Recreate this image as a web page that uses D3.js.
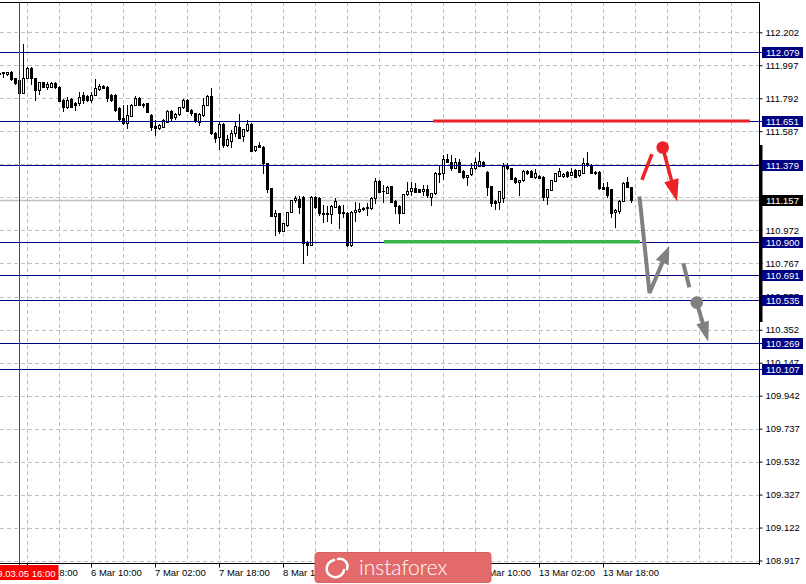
<!DOCTYPE html>
<html><head><meta charset="utf-8">
<script src="https://cdn.jsdelivr.net/npm/d3@7"></script>
<style>html,body{margin:0;padding:0;background:#fff;overflow:hidden}</style>
</head><body>
<svg id="c" width="806" height="584" xmlns="http://www.w3.org/2000/svg"></svg>
<script>
// ---- DATA (USDJPY H1, candle index 0 = 5 Mar 12:00) ----
const firstIndex = -1;
const openP = [111.949,
111.949,111.943,111.955,111.918,111.906,111.825,111.918,111.980,111.918,111.843,
111.893,111.862,111.862,111.887,111.862,111.781,111.738,111.787,111.762,111.762,
111.812,111.806,111.781,111.812,111.850,111.868,111.862,111.812,111.812,111.731,
111.669,111.638,111.682,111.750,111.794,111.756,111.762,111.688,111.619,111.607,
111.613,111.644,111.713,111.675,111.694,111.738,111.781,111.719,111.700,111.644,
111.688,111.750,111.806,111.576,111.551,111.632,111.501,111.526,111.576,111.613,
111.557,111.595,111.632,111.470,111.501,111.489,111.389,111.234,111.060,111.078,
110.966,111.004,111.085,111.159,111.165,111.178,110.898,110.879,111.178,111.172,
111.078,111.078,111.072,111.116,111.122,111.085,111.078,110.879,111.085,111.091,
111.109,111.116,111.109,111.172,111.277,111.215,111.203,111.246,111.153,111.122,
111.078,111.197,111.215,111.234,111.228,111.215,111.228,111.178,111.203,111.321,
111.327,111.414,111.396,111.358,111.396,111.340,111.302,111.321,111.358,111.371,
111.396,111.333,111.246,111.153,111.147,111.172,111.371,111.358,111.296,111.271,
111.284,111.340,111.340,111.302,111.309,111.302,111.178,111.221,111.277,111.309,
111.309,111.333,111.315,111.346,111.315,111.327,111.389,111.377,111.333,111.333,
111.240,111.240,111.228,111.085,111.091,111.153,111.271,111.240];
const highP = [111.955,
111.955,111.955,111.961,111.918,111.906,112.129,111.986,111.986,111.918,111.893,
111.893,111.893,111.893,111.893,111.868,111.787,111.800,111.794,111.769,111.831,
111.831,111.812,111.831,111.912,111.881,111.874,111.868,111.818,111.818,111.738,
111.750,111.750,111.756,111.806,111.800,111.762,111.762,111.694,111.657,111.632,
111.663,111.719,111.719,111.700,111.738,111.787,111.787,111.725,111.700,111.700,
111.794,111.812,111.856,111.582,111.644,111.638,111.563,111.595,111.644,111.694,
111.601,111.657,111.638,111.495,111.520,111.495,111.389,111.234,111.097,111.078,
111.016,111.085,111.159,111.184,111.184,111.184,110.904,111.184,111.184,111.178,
111.128,111.122,111.128,111.172,111.128,111.128,111.085,111.091,111.147,111.141,
111.116,111.141,111.178,111.296,111.284,111.253,111.246,111.246,111.159,111.128,
111.197,111.271,111.271,111.265,111.228,111.253,111.253,111.203,111.333,111.377,
111.439,111.445,111.439,111.420,111.414,111.346,111.315,111.389,111.420,111.458,
111.402,111.340,111.246,111.159,111.215,111.389,111.389,111.358,111.302,111.284,
111.346,111.346,111.346,111.352,111.315,111.309,111.228,111.284,111.327,111.358,
111.327,111.340,111.358,111.352,111.346,111.420,111.458,111.383,111.340,111.340,
111.265,111.271,111.228,111.103,111.159,111.271,111.302,111.240];
const lowP = [111.930,
111.924,111.937,111.906,111.881,111.825,111.825,111.918,111.881,111.781,111.818,
111.862,111.850,111.862,111.856,111.775,111.713,111.731,111.738,111.719,111.750,
111.762,111.775,111.769,111.812,111.843,111.856,111.775,111.775,111.713,111.657,
111.632,111.607,111.682,111.750,111.750,111.738,111.706,111.595,111.563,111.601,
111.613,111.644,111.657,111.663,111.688,111.731,111.713,111.688,111.644,111.626,
111.682,111.750,111.570,111.520,111.476,111.489,111.495,111.489,111.557,111.545,
111.526,111.588,111.464,111.464,111.489,111.327,111.209,111.060,110.941,110.954,
110.966,110.997,111.085,111.147,111.078,110.767,110.817,110.879,111.109,111.066,
111.022,111.029,111.016,111.116,110.985,111.053,110.873,110.873,111.029,111.085,
111.097,111.066,111.103,111.141,111.209,111.147,111.203,111.147,111.078,111.016,
111.078,111.190,111.190,111.209,111.209,111.190,111.178,111.128,111.197,111.271,
111.290,111.396,111.346,111.358,111.333,111.296,111.253,111.315,111.352,111.371,
111.371,111.190,111.122,111.103,111.103,111.147,111.352,111.290,111.265,111.190,
111.277,111.321,111.302,111.296,111.296,111.159,111.134,111.221,111.277,111.309,
111.302,111.302,111.315,111.302,111.309,111.327,111.371,111.327,111.321,111.228,
111.228,111.178,111.053,110.991,111.078,111.153,111.240,111.147];
const closeP = [111.943,
111.955,111.955,111.912,111.887,111.825,111.918,111.980,111.918,111.843,111.893,
111.862,111.881,111.887,111.862,111.775,111.738,111.781,111.738,111.750,111.800,
111.781,111.781,111.812,111.856,111.868,111.856,111.794,111.781,111.719,111.663,
111.638,111.688,111.750,111.794,111.750,111.750,111.706,111.613,111.607,111.626,
111.657,111.713,111.669,111.694,111.738,111.781,111.713,111.700,111.650,111.694,
111.750,111.806,111.576,111.545,111.632,111.501,111.539,111.576,111.619,111.545,
111.601,111.632,111.464,111.495,111.489,111.389,111.228,111.060,111.078,110.966,
111.016,111.085,111.159,111.172,111.116,110.892,110.879,111.178,111.116,111.078,
111.072,111.072,111.122,111.153,111.078,111.078,110.879,111.085,111.097,111.103,
111.103,111.109,111.172,111.277,111.209,111.215,111.240,111.147,111.122,111.078,
111.197,111.215,111.234,111.209,111.209,111.228,111.190,111.203,111.327,111.327,
111.414,111.396,111.358,111.396,111.333,111.302,111.315,111.358,111.396,111.402,
111.371,111.240,111.141,111.141,111.215,111.371,111.358,111.290,111.271,111.284,
111.340,111.327,111.302,111.327,111.296,111.178,111.228,111.284,111.327,111.340,
111.321,111.309,111.333,111.302,111.346,111.389,111.377,111.327,111.327,111.234,
111.228,111.190,111.078,111.097,111.153,111.265,111.240,111.157];

const priceTicks = [112.202,111.997,111.792,111.587,111.382,111.177,110.972,110.767,110.557,110.352,110.147,109.942,109.737,109.532,109.327,109.122,108.917];
const levelPrices = [112.079,111.651,111.379,110.900,110.691,110.535,110.269,110.107];
const lastPrice = 111.157;
const timeTickIdx = [6,22,38,54,70,86,102,118,134,150];
const timeTickLabels = ["5 Mar 18:00","6 Mar 10:00","7 Mar 02:00","7 Mar 18:00","8 Mar 10:00","11 Mar 02:00","11 Mar 18:00","12 Mar 10:00","13 Mar 02:00","13 Mar 18:00"];
const cursorIdx = 4;
const cursorLabel = "2019.03.05 16:00";
// annotations in (candle index, price)
const resistanceSeg = [[107.4,111.651],[186.6,111.651]];
const supportSeg = [[95.1,110.900],[159.1,110.900]];
const redUp = [[159.6,111.284],[162.1,111.445]];
const redDot = [164.8,111.486];
const redDown = [[164.8,111.486],[168.4,111.150]];
const grayPath = [[159.0,111.181],[161.5,110.581],[166.45,110.873]];
const grayDash = [[169.95,110.766],[171.45,110.616]];
const grayDot = [173.3,110.521];
const grayDown = [[173.3,110.521],[176.2,110.278]];

// ---- CHART ----
const W = 806, H = 584, plotR = 760, plotT = 2, plotB = 564;
const svg = d3.select('#c');
const x = d3.scaleLinear().domain([0,189]).range([3.5,759.5]);
const y = d3.scaleLinear().domain([108.917,112.202]).range([560.5,32.3]);
const font = "'Liberation Sans', Arial, sans-serif";

svg.append('rect').attr('width',W).attr('height',H).attr('fill','#fff');
svg.append('defs').append('clipPath').attr('id','clip').append('rect')
  .attr('x',0).attr('y',plotT).attr('width',plotR).attr('height',plotB-plotT);

const grid = svg.append('g').attr('stroke','#c0c0c0').attr('stroke-dasharray','4,3').attr('stroke-width',1);
const gridIdx = d3.range(6,190,8);
grid.selectAll('line.v').data(gridIdx).join('line').attr('class','v')
  .attr('x1',d=>Math.floor(x(d))+0.5).attr('x2',d=>Math.floor(x(d))+0.5).attr('y1',plotT).attr('y2',plotB);
grid.selectAll('line.h').data(priceTicks).join('line').attr('class','h')
  .attr('x1',0).attr('x2',plotR).attr('y1',d=>Math.round(y(d))+0.5).attr('y2',d=>Math.round(y(d))+0.5);

const plot = svg.append('g').attr('clip-path','url(#clip)');
// current price line
plot.append('line').attr('x1',0).attr('x2',plotR)
  .attr('y1',Math.round(y(lastPrice))+0.5).attr('y2',Math.round(y(lastPrice))+0.5)
  .attr('stroke','#c0c0c0').attr('stroke-width',1.5);
// cursor line
svg.append('line').attr('x1',Math.floor(x(cursorIdx))+0.5).attr('x2',Math.floor(x(cursorIdx))+0.5)
  .attr('y1',plotT).attr('y2',plotB+2).attr('stroke','#ff0000').attr('stroke-width',1);

// candles
const candles = openP.map((o,k)=>({i:k+firstIndex,o,h:highP[k],l:lowP[k],c:closeP[k]}));
const cg = plot.append('g');
candles.forEach(d=>{
  const col = Math.floor(x(d.i));
  const yh = Math.round(y(d.h)), yl = Math.round(y(d.l));
  cg.append('rect').attr('x',col).attr('y',yh).attr('width',1).attr('height',Math.max(1,yl-yh+1)).attr('fill','#000');
  const top = Math.round(y(Math.max(d.o,d.c))), bot = Math.round(y(Math.min(d.o,d.c)));
  if (d.c > d.o) {
    cg.append('rect').attr('x',col-1+0.5).attr('y',top+0.5).attr('width',2).attr('height',Math.max(1,bot-top))
      .attr('fill','#fff').attr('stroke','#000').attr('stroke-width',1);
  } else {
    cg.append('rect').attr('x',col-1).attr('y',top).attr('width',3).attr('height',Math.max(1,bot-top+1)).attr('fill','#000');
  }
});

// level lines
plot.append('g').selectAll('line').data(levelPrices).join('line')
  .attr('x1',0).attr('x2',plotR).attr('y1',d=>Math.round(y(d))+0.5).attr('y2',d=>Math.round(y(d))+0.5)
  .attr('stroke','#000080').attr('stroke-width',1);
svg.append('g').selectAll('line').data(levelPrices).join('line')
  .attr('x1',plotR).attr('x2',763).attr('y1',d=>Math.round(y(d))+0.5).attr('y2',d=>Math.round(y(d))+0.5)
  .attr('stroke','#000080');

// annotation lines
const line = d3.line().x(d=>x(d[0])).y(d=>y(d[1]));
const ann = svg.append('g');
ann.append('path').attr('d',line(resistanceSeg)).attr('stroke','#ec2227').attr('stroke-width',3).attr('fill','none');
ann.append('path').attr('d',line(supportSeg)).attr('stroke','#39b54a').attr('stroke-width',3.5).attr('fill','none');

function arrow(pts,color,w,headLen,headHalf){
  const P = pts.map(d=>[x(d[0]),y(d[1])]);
  const n = P.length, tip = P[n-1], prev = P[n-2];
  const dx = tip[0]-prev[0], dy = tip[1]-prev[1], L = Math.hypot(dx,dy);
  const ux = dx/L, uy = dy/L;
  const base = [tip[0]-ux*headLen, tip[1]-uy*headLen];
  const lp = P.slice(0,n-1).concat([[tip[0]-ux*headLen*0.6, tip[1]-uy*headLen*0.6]]);
  ann.append('path').attr('d',d3.line()(lp)).attr('fill','none').attr('stroke',color).attr('stroke-width',w).attr('stroke-linejoin','miter');
  const px=-uy, py=ux;
  ann.append('path').attr('d',`M${tip[0]},${tip[1]}L${base[0]+px*headHalf},${base[1]+py*headHalf}L${base[0]-px*headHalf},${base[1]-py*headHalf}Z`).attr('fill',color);
}
ann.append('path').attr('d',line(redUp)).attr('stroke','#ec2227').attr('stroke-width',3.5).attr('fill','none');
arrow(redDown,'#ec2227',3.5,22,7.5);
ann.append('circle').attr('cx',x(redDot[0])).attr('cy',y(redDot[1])).attr('r',6.3).attr('fill','#ec2227');
arrow(grayPath,'#808080',4,18,7);
ann.append('path').attr('d',line(grayDash)).attr('stroke','#808080').attr('stroke-width',4).attr('fill','none');
arrow(grayDown,'#808080',4,20,6.5);
ann.append('circle').attr('cx',x(grayDot[0])).attr('cy',y(grayDot[1])).attr('r',6.3).attr('fill','#808080');

// borders
svg.append('line').attr('x1',0).attr('x2',plotR).attr('y1',2.5).attr('y2',2.5).attr('stroke','#000');
svg.append('line').attr('x1',plotR-0.5).attr('x2',plotR-0.5).attr('y1',2).attr('y2',plotB+1).attr('stroke','#000');
svg.append('line').attr('x1',0).attr('x2',plotR).attr('y1',plotB-0.5).attr('y2',plotB-0.5).attr('stroke','#000');
svg.append('rect').attr('x',759).attr('y',145).attr('width',3.5).attr('height',177).attr('fill','#000');

// right price axis
const ya = svg.append('g').attr('transform',`translate(${plotR-0.5},0)`)
  .call(d3.axisRight(y).tickValues(priceTicks).tickSize(3).tickPadding(3).tickFormat(d3.format('.3f')));
ya.select('.domain').remove();
ya.selectAll('.tick line').attr('stroke','#000');
ya.selectAll('.tick text').attr('font-family',font).attr('font-size','9.5px').attr('fill','#000');

// level labels
const lv = svg.append('g');
levelPrices.concat([lastPrice]).forEach(v=>{
  const yy = Math.round(y(v));
  lv.append('rect').attr('x',762).attr('y',yy-5).attr('width',41).attr('height',11)
    .attr('fill', v===lastPrice ? '#000' : '#000080');
  lv.append('text').attr('x',766).attr('y',yy+0.5).attr('dy','0.35em').text(d3.format('.3f')(v))
    .attr('font-family',font).attr('font-size','9.5px').attr('fill','#fff');
});

// bottom time axis
const xa = svg.append('g').attr('transform',`translate(0,${plotB-0.5})`)
  .call(d3.axisBottom(x).tickValues(timeTickIdx).tickSize(4).tickPadding(2).tickFormat((d,k)=>timeTickLabels[k]));
xa.select('.domain').remove();
xa.selectAll('.tick').attr('transform',d=>`translate(${Math.floor(x(d))+0.5},0)`);
xa.selectAll('.tick line').attr('stroke','#000');
xa.selectAll('.tick text').attr('text-anchor','start').attr('x',-0.5)
  .attr('font-family',font).attr('font-size','9.5px').attr('fill','#000');

// cursor time label
const cx0 = Math.floor(x(cursorIdx))+0.5;
svg.append('rect').attr('x',cx0-40).attr('y',565).attr('width',79).attr('height',15).attr('fill','#ff0000');
svg.append('text').attr('x',cx0-1).attr('y',576.5).attr('text-anchor','middle').text(cursorLabel)
  .attr('font-family',font).attr('font-size','9.5px').attr('fill','#fff');

// watermark logo
const logo = svg.append('g');
logo.append('rect').attr('x',315).attr('y',552.5).attr('width',176).attr('height',30).attr('rx',3)
  .attr('fill','#e36a6a').attr('stroke','#d86060');
logo.append('path').attr('d','M334,560 c-8,2 -10,12 -3,16 c5,3 12,0 13,-6 M338,559 c6,-1 11,4 9,10')
  .attr('fill','none').attr('stroke','#fff').attr('stroke-width',2.5).attr('stroke-linecap','round');
logo.append('text').attr('x',359).attr('y',575).text('instaforex')
  .attr('font-family',"Lato, 'Open Sans', sans-serif").attr('font-weight',300).attr('font-size','21px').attr('fill','#fff');
</script>
</body></html>
